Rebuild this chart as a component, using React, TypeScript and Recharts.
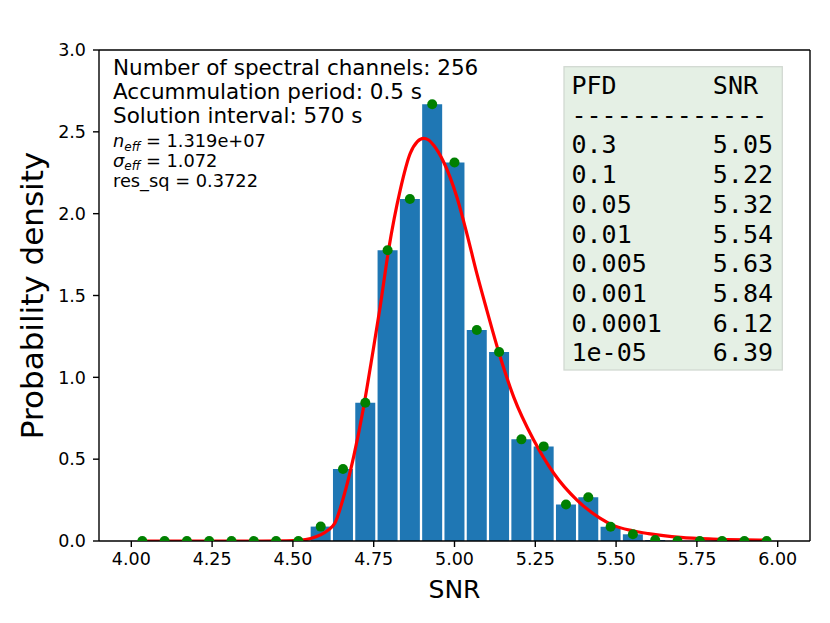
import React from 'react';
import {
  ComposedChart,
  Bar,
  Scatter,
  Line,
  XAxis,
  YAxis,
  ReferenceLine,
  Customized,
} from 'recharts';

// Histogram bin centres (SNR) and probability density
const binCenters = [
  4.034, 4.103, 4.172, 4.241, 4.310, 4.379, 4.448, 4.517, 4.586, 4.655,
  4.724, 4.793, 4.862, 4.931, 5.000, 5.069, 5.138, 5.207, 5.276, 5.345,
  5.414, 5.483, 5.552, 5.621, 5.690, 5.759, 5.828, 5.897, 5.966,
];
const densities = [
  0, 0, 0, 0, 0, 0, 0, 0, 0.088, 0.44,
  0.845, 1.777, 2.09, 2.668, 2.313, 1.289, 1.155, 0.621, 0.578, 0.223,
  0.267, 0.087, 0.041, 0.006, 0, 0, 0, 0, 0,
];

// Fitted density curve
const curveX = [
  4.03, 4.2, 4.4, 4.48, 4.52, 4.555, 4.585, 4.61, 4.63, 4.657, 4.688, 4.719,
  4.745, 4.77, 4.796, 4.832, 4.863, 4.885, 4.904, 4.92, 4.935, 4.966, 5.007,
  5.038, 5.069, 5.1, 5.138, 5.183, 5.245, 5.307, 5.379, 5.45, 5.49, 5.55, 5.6,
  5.7, 5.8, 5.9, 5.97,
];
const curveY = [
  0, 0, 0, 0.001, 0.004, 0.015, 0.037, 0.068, 0.11, 0.27, 0.515, 0.82,
  1.126, 1.431, 1.778, 2.144, 2.368, 2.44, 2.46, 2.45, 2.419, 2.317, 2.103,
  1.88, 1.635, 1.411, 1.147, 0.881, 0.617, 0.414, 0.25, 0.14, 0.097, 0.063,
  0.045, 0.022, 0.012, 0.007, 0.005,
];

const xTicks = [4.0, 4.25, 4.5, 4.75, 5.0, 5.25, 5.5, 5.75, 6.0];
const yTicks = [0, 0.5, 1.0, 1.5, 2.0, 2.5, 3.0];

const infoLines = [
  'Number of spectral channels: 256',
  'Accummulation period: 0.5 s',
  'Solution interval: 570 s',
];
const nEff = '1.319e+07';
const sigmaEff = '1.072';
const resSq = '0.3722';

const pfdValues = ['0.3', '0.1', '0.05', '0.01', '0.005', '0.001', '0.0001', '1e-05'];
const snrThresholds = ['5.05', '5.22', '5.32', '5.54', '5.63', '5.84', '6.12', '6.39'];

const histData = binCenters.map((x, i) => ({ x, density: densities[i] }));
const curveData = curveX.map((x, i) => ({ x, y: curveY[i] }));

const SANS = 'DejaVu Sans';
const MONO = 'DejaVu Sans Mono';

const Annotations = () => {
  const rowY0 = 94;
  const rowStep = 29.7;
  const infoBase = [75.3, 99, 122.7];
  return (
    <g>
      {infoLines.map((t, i) => (
        <text key={t} x={113} y={infoBase[i]} fontFamily={SANS} fontSize={21.5} fill="#000">
          {t}
        </text>
      ))}
      <text x={113} y={147.3} fontFamily={SANS} fontSize={17.8} fill="#000">
        <tspan fontStyle="italic">n</tspan>
        <tspan fontStyle="italic" fontSize={12} dy={3.2}>eff</tspan>
        <tspan dy={-3.2}>{` = ${nEff}`}</tspan>
      </text>
      <text x={113} y={166.8} fontFamily={SANS} fontSize={17.8} fill="#000">
        <tspan fontStyle="italic">σ</tspan>
        <tspan fontStyle="italic" fontSize={12} dy={3.2}>eff</tspan>
        <tspan dy={-3.2}>{` = ${sigmaEff}`}</tspan>
      </text>
      <text x={113} y={186.6} fontFamily={SANS} fontSize={17.8} fill="#000">
        {`res_sq = ${resSq}`}
      </text>

      <rect x={564} y={66.7} width={218.3} height={303.3} fill="#e5f0e5" stroke="#d2d9d2" strokeWidth={1.3} />
      <text x={571.5} y={rowY0} fontFamily={MONO} fontSize={25} fill="#000">PFD</text>
      <text x={758} y={rowY0} fontFamily={MONO} fontSize={25} fill="#000" textAnchor="end">SNR</text>
      <text x={571.5} y={rowY0 + rowStep} fontFamily={MONO} fontSize={25} fill="#000">-------------</text>
      {pfdValues.map((p, i) => (
        <g key={p}>
          <text x={571.5} y={rowY0 + (i + 2) * rowStep} fontFamily={MONO} fontSize={25} fill="#000">
            {p}
          </text>
          <text
            x={773}
            y={rowY0 + (i + 2) * rowStep}
            fontFamily={MONO}
            fontSize={25}
            fill="#000"
            textAnchor="end"
          >
            {snrThresholds[i]}
          </text>
        </g>
      ))}

      <text x={454.5} y={598.3} fontFamily={SANS} fontSize={25} fill="#000" textAnchor="middle">
        SNR
      </text>
      <text
        x={43}
        y={295.5}
        fontFamily={SANS}
        fontSize={31}
        fill="#000"
        textAnchor="middle"
        transform="rotate(-90, 43, 295.5)"
      >
        Probability density
      </text>
    </g>
  );
};

export default function App() {
  const tickStyle = { fill: '#000', fontSize: 17.5, fontFamily: SANS };
  return (
    <div style={{ position: 'absolute', left: 0, top: 0, width: 830, height: 623, background: '#fff' }}>
      <ComposedChart
        width={830}
        height={623}
        data={histData}
        margin={{ top: 50, right: 20, left: 0, bottom: 0 }}
        barCategoryGap="5%"
      >
        <XAxis
          dataKey="x"
          type="number"
          domain={[3.9, 6.1]}
          ticks={xTicks}
          interval={0}
          allowDataOverflow
          tickFormatter={(v: number) => v.toFixed(2)}
          height={82}
          tickSize={6}
          tickMargin={6}
          tick={tickStyle}
          axisLine={{ stroke: '#000', strokeWidth: 1.4 }}
          tickLine={{ stroke: '#000', strokeWidth: 1.4 }}
        />
        <XAxis xAxisId="curve" dataKey="x" type="number" domain={[3.9, 6.1]} allowDataOverflow hide />
        <YAxis
          type="number"
          domain={[0, 3]}
          ticks={yTicks}
          interval={0}
          allowDataOverflow
          tickFormatter={(v: number) => v.toFixed(1)}
          width={99}
          tickSize={6}
          tickMargin={7}
          tick={tickStyle}
          axisLine={{ stroke: '#000', strokeWidth: 1.4 }}
          tickLine={{ stroke: '#000', strokeWidth: 1.4 }}
        />
        <Bar dataKey="density" fill="#1f77b4" isAnimationActive={false} />
        <Scatter
          dataKey="density"
          fill="#008000"
          isAnimationActive={false}
          shape={(p: any) => <circle cx={p.cx} cy={p.cy} r={5} fill="#008000" />}
        />
        <Line
          data={curveData}
          xAxisId="curve"
          dataKey="y"
          type="monotone"
          stroke="#ff0000"
          strokeWidth={3.2}
          dot={false}
          activeDot={false}
          isAnimationActive={false}
        />
        <ReferenceLine y={3} stroke="#000" strokeWidth={1.4} ifOverflow="visible" />
        <ReferenceLine x={6.1} stroke="#000" strokeWidth={1.4} ifOverflow="visible" />
        <Customized component={Annotations} />
      </ComposedChart>
    </div>
  );
}
